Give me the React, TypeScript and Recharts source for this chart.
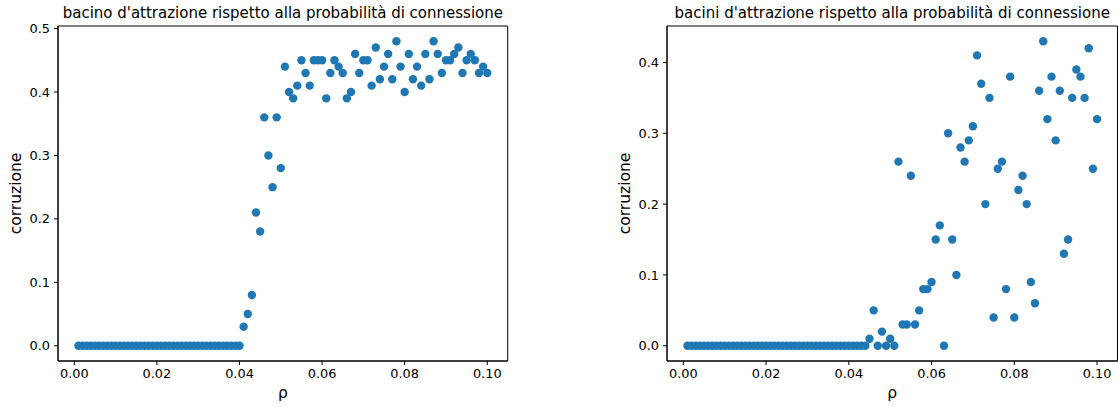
import { ScatterChart, Scatter, XAxis, YAxis, Label, ReferenceArea } from "recharts";

// probabilità di connessione (asse x)
const rho = [
  0.001, 0.002, 0.003, 0.004, 0.005, 0.006, 0.007, 0.008, 0.009, 0.01,
  0.011, 0.012, 0.013, 0.014, 0.015, 0.016, 0.017, 0.018, 0.019, 0.02,
  0.021, 0.022, 0.023, 0.024, 0.025, 0.026, 0.027, 0.028, 0.029, 0.03,
  0.031, 0.032, 0.033, 0.034, 0.035, 0.036, 0.037, 0.038, 0.039, 0.04,
  0.041, 0.042, 0.043, 0.044, 0.045, 0.046, 0.047, 0.048, 0.049, 0.05,
  0.051, 0.052, 0.053, 0.054, 0.055, 0.056, 0.057, 0.058, 0.059, 0.06,
  0.061, 0.062, 0.063, 0.064, 0.065, 0.066, 0.067, 0.068, 0.069, 0.07,
  0.071, 0.072, 0.073, 0.074, 0.075, 0.076, 0.077, 0.078, 0.079, 0.08,
  0.081, 0.082, 0.083, 0.084, 0.085, 0.086, 0.087, 0.088, 0.089, 0.09,
  0.091, 0.092, 0.093, 0.094, 0.095, 0.096, 0.097, 0.098, 0.099, 0.1,
];

// corruzione, un solo bacino d'attrazione
const corruzioneBacino = [
  0, 0, 0, 0, 0, 0, 0, 0, 0, 0,
  0, 0, 0, 0, 0, 0, 0, 0, 0, 0,
  0, 0, 0, 0, 0, 0, 0, 0, 0, 0,
  0, 0, 0, 0, 0, 0, 0, 0, 0, 0,
  0.03, 0.05, 0.08, 0.21, 0.18, 0.36, 0.3, 0.25, 0.36, 0.28,
  0.44, 0.4, 0.39, 0.41, 0.45, 0.43, 0.41, 0.45, 0.45, 0.45,
  0.39, 0.43, 0.45, 0.44, 0.43, 0.39, 0.4, 0.46, 0.43, 0.45,
  0.45, 0.41, 0.47, 0.42, 0.44, 0.46, 0.42, 0.48, 0.44, 0.4,
  0.46, 0.42, 0.44, 0.41, 0.46, 0.42, 0.48, 0.46, 0.43, 0.45,
  0.45, 0.46, 0.47, 0.43, 0.45, 0.46, 0.45, 0.43, 0.44, 0.43,
];

// corruzione, più bacini d'attrazione
const corruzioneBacini = [
  0, 0, 0, 0, 0, 0, 0, 0, 0, 0,
  0, 0, 0, 0, 0, 0, 0, 0, 0, 0,
  0, 0, 0, 0, 0, 0, 0, 0, 0, 0,
  0, 0, 0, 0, 0, 0, 0, 0, 0, 0,
  0, 0, 0, 0, 0.01, 0.05, 0, 0.02, 0, 0.01,
  0, 0.26, 0.03, 0.03, 0.24, 0.03, 0.05, 0.08, 0.08, 0.09,
  0.15, 0.17, 0, 0.3, 0.15, 0.1, 0.28, 0.26, 0.29, 0.31,
  0.41, 0.37, 0.2, 0.35, 0.04, 0.25, 0.26, 0.08, 0.38, 0.04,
  0.22, 0.24, 0.2, 0.09, 0.06, 0.36, 0.43, 0.32, 0.38, 0.29,
  0.36, 0.13, 0.15, 0.35, 0.39, 0.38, 0.35, 0.42, 0.25, 0.32,
];

const xTicks = [0, 0.02, 0.04, 0.06, 0.08, 0.1];
const yTicksBacino = [0, 0.1, 0.2, 0.3, 0.4, 0.5];
const yTicksBacini = [0, 0.1, 0.2, 0.3, 0.4];

const FONT = "DejaVu Sans";
const BLUE = "#1f77b4";
const X_DOMAIN: [number, number] = [-0.00395, 0.10495];

type PanelProps = {
  title: string;
  values: number[];
  yTicks: number[];
  yDomain: [number, number];
  left: number;
  width: number;
  marginRight: number;
};

function Panel({ title, values, yTicks, yDomain, left, width, marginRight }: PanelProps) {
  const data = rho.map((r, i) => ({ rho: r, corruzione: values[i] }));
  const tickStyle = { fill: "#000", fontSize: 12.9, fontFamily: FONT };

  return (
    <div style={{ position: "absolute", left, top: 0 }}>
      <ScatterChart width={width} height={407} margin={{ top: 26, right: marginRight, bottom: 0, left: 0 }}>
        <XAxis
          dataKey="rho"
          type="number"
          domain={X_DOMAIN}
          allowDataOverflow
          ticks={xTicks}
          tickFormatter={(v: number) => v.toFixed(2)}
          height={46}
          tickSize={4}
          tickMargin={4}
          stroke="#000"
          tick={tickStyle}
        >
          <Label
            content={(p: any) => (
              <text x={p.viewBox.x + p.viewBox.width / 2} y={p.viewBox.y + 37} textAnchor="middle" fontSize={15.5} fontFamily={FONT} fill="#000">
                ρ
              </text>
            )}
          />
        </XAxis>
        <YAxis
          dataKey="corruzione"
          type="number"
          domain={yDomain}
          allowDataOverflow
          ticks={yTicks}
          tickFormatter={(v: number) => v.toFixed(1)}
          width={58}
          tickSize={4}
          tickMargin={4}
          stroke="#000"
          tick={tickStyle}
        >
          <Label
            content={(p: any) => {
              const cx = p.viewBox.x + p.viewBox.width - 42;
              const cy = p.viewBox.y + p.viewBox.height / 2;
              return (
                <text x={cx} y={cy} transform={`rotate(-90 ${cx} ${cy})`} textAnchor="middle" dominantBaseline="central" fontSize={15.5} fontFamily={FONT} fill="#000">
                  corruzione
                </text>
              );
            }}
          />
        </YAxis>
        {/* riquadro completo degli assi + titolo */}
        <ReferenceArea
          x1={X_DOMAIN[0]}
          x2={X_DOMAIN[1]}
          y1={yDomain[0]}
          y2={yDomain[1]}
          ifOverflow="visible"
          fill="none"
          fillOpacity={0}
          stroke="#000"
          strokeWidth={1}
        >
          <Label
            content={(p: any) => (
              <text x={p.viewBox.x + p.viewBox.width / 2} y={p.viewBox.y - 8} textAnchor="middle" fontSize={15} fontFamily={FONT} fill="#000">
                {title}
              </text>
            )}
          />
        </ReferenceArea>
        <Scatter
          data={data}
          isAnimationActive={false}
          shape={(p: any) => <circle cx={p.cx} cy={p.cy} r={4.2} fill={BLUE} />}
        />
      </ScatterChart>
    </div>
  );
}

export default function App() {
  return (
    <div style={{ position: "absolute", left: 0, top: 0, width: 1118, height: 407, background: "#fff", overflow: "hidden", fontFamily: FONT }}>
      <Panel
        title="bacino d'attrazione rispetto alla probabilità di connessione"
        values={corruzioneBacino}
        yTicks={yTicksBacino}
        yDomain={[-0.024, 0.504]}
        left={0}
        width={540}
        marginRight={32.3}
      />
      <Panel
        title="bacini d'attrazione rispetto alla probabilità di connessione"
        values={corruzioneBacini}
        yTicks={yTicksBacini}
        yDomain={[-0.0215, 0.4515]}
        left={609}
        width={510}
        marginRight={1.5}
      />
    </div>
  );
}
